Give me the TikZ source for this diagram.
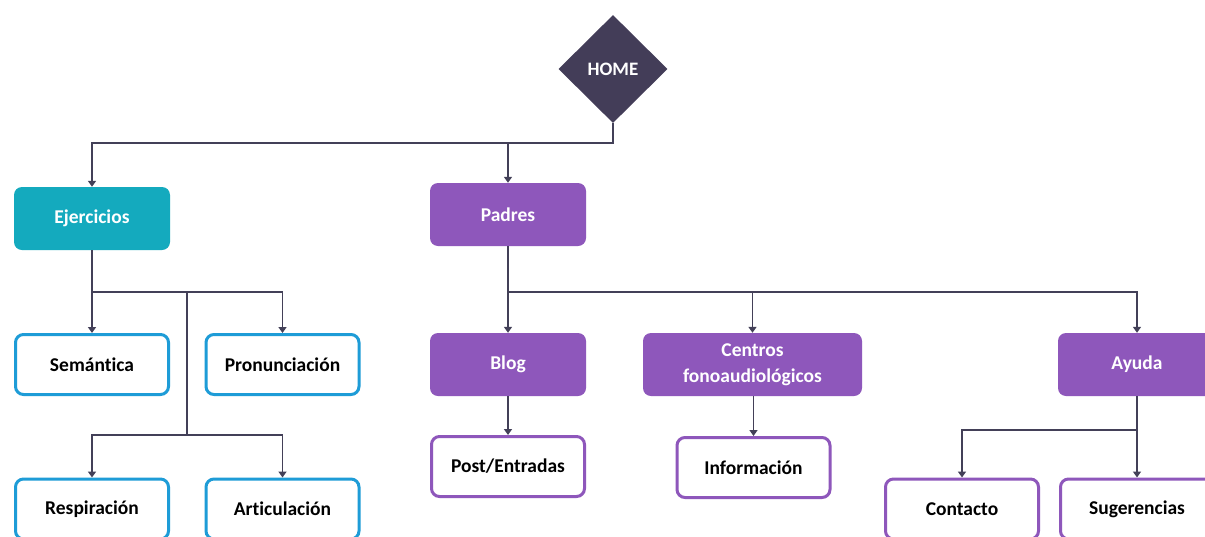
\documentclass[tikz,border=0pt]{standalone}
\usepackage{fontspec}
\setmainfont{Carlito}[Ligatures=NoCommon]
\usetikzlibrary{arrows.meta,shapes.geometric}
\definecolor{tealF}{HTML}{14AABE}
\definecolor{purpF}{HTML}{8E57BB}
\definecolor{blueO}{HTML}{1E9CD7}
\definecolor{darkF}{HTML}{433D58}
\definecolor{lineC}{HTML}{434058}
\begin{document}
\begin{tikzpicture}[x=1pt,y=-1pt,
  box/.style={rounded corners=8pt, minimum width=156pt, minimum height=63pt,
    font=\fontsize{19.5}{26}\selectfont\bfseries, align=center, inner sep=0pt},
  fillT/.style={box, fill=tealF, text=white},
  fillP/.style={box, fill=purpF, text=white},
  outB/.style={box, draw=blueO, line width=3pt, fill=white, text=black,
    minimum width=153pt, minimum height=60pt},
  outP/.style={box, draw=purpF, line width=3pt, fill=white, text=black,
    minimum width=153pt, minimum height=60pt},
  ln/.style={draw=lineC, line width=1.8pt},
  arr/.style={ln, -{Triangle[length=6pt,width=8pt]}}]
\useasboundingbox (0,0) rectangle (1205,536);
\fill[white] (0,0) rectangle (1205,536);

\node[diamond, fill=darkF, text=white, inner sep=0pt, minimum width=109pt,
  minimum height=108pt, font=\fontsize{19}{22}\selectfont\bfseries] (home) at (613,69) {HOME};

\node[fillT] (ejer) at (92,218.5) {Ejercicios};
\node[fillP] (padres) at (508,214.5) {Padres};

\node[outB] (sem) at (92,364.5) {Semántica};
\node[outB] (pron) at (282.5,364.5) {Pronunciación};
\node[outB] (resp) at (92,509) {Respiración};
\node[outB] (artic) at (282.5,509) {Articulación};

\node[fillP] (blog) at (508,364.5) {Blog};
\node[outP] (post) at (508,466.5) {Post/Entradas};
\node[fillP, minimum width=219pt] (cent) at (752.5,364.5) {Centros\\fonoaudiológicos};
\node[outP] (info) at (753.5,467.5) {Información};
\node[fillP, minimum width=158pt] (ayuda) at (1137,364.5) {Ayuda};
\node[outP] (cont) at (962,509) {Contacto};
\node[outP] (sug) at (1137,509) {Sugerencias};

% HOME tree
\coordinate (h1) at (613,143);
\draw[arr] (home.south) -- (h1) -| (ejer.north);
\draw[arr] (padres.north |- h1) -- (padres.north);

% Ejercicios tree
\coordinate (e1) at (92,292);
\coordinate (e2) at (187,292);
\coordinate (e3) at (187,435);
\draw[ln] (ejer.south) -- (e1);
\draw[arr] (e1) -- (sem.north);
\draw[arr] (e1) -| (pron.north);
\draw[ln] (e2) -- (e3);
\draw[arr] (e3) -| (resp.north);
\draw[arr] (e3) -| (artic.north);

% Padres tree
\coordinate (p1) at (508,292);
\draw[arr] (padres.south) -- (blog.north);
\draw[arr] (p1) -| (cent.north);
\draw[arr] (p1) -| (ayuda.north);
\draw[arr] (blog.south) -- (post.north);
\draw[arr] (info.north |- cent.south) -- (info.north);

% Ayuda tree
\coordinate (a1) at (1137,430);
\draw[arr] (ayuda.south) -- (sug.north);
\draw[arr] (a1) -| (cont.north);
\end{tikzpicture}
\end{document}
